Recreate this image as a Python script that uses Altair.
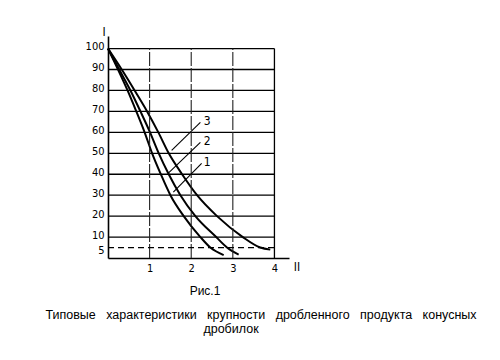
import altair as alt
import pandas as pd

# ---- data ----
curve1_x = [0, 0.24, 0.47, 0.68, 0.88, 1.06, 1.27, 1.50, 1.82, 2.22, 2.46, 2.78]
curve1_y = [100, 90, 80, 70, 60, 50, 40, 30, 20, 10, 5, 1.4]
curve2_x = [0, 0.27, 0.54, 0.78, 1.01, 1.22, 1.46, 1.74, 2.10, 2.60, 2.86, 3.14]
curve2_y = [100, 90, 80, 70, 60, 50, 40, 30, 20, 10, 5, 1.6]
curve3_x = [0, 0.33, 0.64, 0.94, 1.21, 1.46, 1.78, 2.14, 2.62, 3.24, 3.66, 3.90]
curve3_y = [100, 90, 80, 70, 60, 50, 40, 30, 20, 10, 5, 4.0]

y_tick_values = [5, 10, 20, 30, 40, 50, 60, 70, 80, 90, 100]
x_tick_values = [1, 2, 3, 4]
h_grid_values = [10, 20, 30, 40, 50, 60, 70, 80, 90, 100]
v_grid_values = [1, 2, 3]
border_x = [4]
dashed_level = [5]

labels = ["1", "2", "3"]
leader_x1 = [2.25, 2.22, 2.22]
leader_y1 = [45.2, 55.2, 64.8]
leader_x2 = [1.57, 1.45, 1.53]
leader_y2 = [31.4, 40.5, 51.4]
label_x = [2.30, 2.30, 2.30]
label_y = [45.8, 55.8, 65.6]

caption_fig = "Рис.1"
caption_words = ["Типовые", "характеристики", "крупности", "дробленного", "продукта", "конусных"]
caption_line2 = "дробилок"
axis_name_y = "I"
axis_name_x = "II"

X_MAX = 4.35
Y_MAX = 106
FONT = "Liberation Sans Narrow, DejaVu Sans Condensed, sans-serif"
CAP_FONT = "Liberation Sans, DejaVu Sans, sans-serif"

# ---- tables ----
rows = []
for name, xs_, ys_ in (("1", curve1_x, curve1_y), ("2", curve2_x, curve2_y), ("3", curve3_x, curve3_y)):
    for a, b in zip(xs_, ys_):
        rows.append({"curve": name, "x": a, "y": b})
curves_df = pd.DataFrame(rows)

hgrid_df = pd.DataFrame({"y": h_grid_values, "x": 0, "x2": 4})
vgrid_df = pd.DataFrame({"x": v_grid_values, "y": 0, "y2": 100})
border_df = pd.DataFrame({"x": border_x, "y": 0, "y2": 100})
dash_df = pd.DataFrame({"y": dashed_level, "x": 0, "x2": 4})
leader_df = pd.DataFrame({"label": labels, "x": leader_x1, "y": leader_y1,
                          "x2": leader_x2, "y2": leader_y2,
                          "lx": label_x, "ly": label_y})

xs = alt.Scale(domain=[0, X_MAX], nice=False, zero=False)
ys = alt.Scale(domain=[0, Y_MAX], nice=False, zero=False)

x_axis = alt.Axis(
    values=x_tick_values, ticks=False, grid=False, title=None,
    labelFontSize=11, labelPadding=4, labelFont=FONT, labelColor="black",
    labelOverlap=False, domainColor="black", domainWidth=1.6)
y_axis = alt.Axis(
    values=y_tick_values, ticks=False, grid=False, title=None,
    labelFontSize=11, labelPadding=4, labelFont=FONT, labelColor="black",
    labelOverlap=False, labelBaseline="middle",
    labelOffset={"condition": {"test": "datum.value == 5", "value": 3}, "value": -2},
    domainColor="black", domainWidth=1.6)

curves = alt.Chart(curves_df).mark_line(
    interpolate="monotone", color="black", strokeWidth=2
).encode(
    x=alt.X("x:Q", scale=xs, axis=x_axis),
    y=alt.Y("y:Q", scale=ys, axis=y_axis),
    detail="curve:N",
    order="x:Q",
)

hgrid = alt.Chart(hgrid_df).mark_rule(color="black", strokeWidth=1.3).encode(
    x=alt.X("x:Q", scale=xs, axis=x_axis), x2="x2:Q",
    y=alt.Y("y:Q", scale=ys, axis=y_axis))

vgrid = alt.Chart(vgrid_df).mark_rule(color="#222", strokeWidth=1.1, strokeDash=[14, 2]).encode(
    x=alt.X("x:Q", scale=xs, axis=x_axis),
    y=alt.Y("y:Q", scale=ys, axis=y_axis), y2="y2:Q")

border = alt.Chart(border_df).mark_rule(color="black", strokeWidth=1.3).encode(
    x=alt.X("x:Q", scale=xs, axis=x_axis),
    y=alt.Y("y:Q", scale=ys, axis=y_axis), y2="y2:Q")

dashed = alt.Chart(dash_df).mark_rule(color="black", strokeWidth=1.3, strokeDash=[6, 4]).encode(
    x=alt.X("x:Q", scale=xs, axis=x_axis), x2="x2:Q",
    y=alt.Y("y:Q", scale=ys, axis=y_axis))

leaders = alt.Chart(leader_df).mark_rule(color="black", strokeWidth=1.1).encode(
    x=alt.X("x:Q", scale=xs, axis=x_axis), x2="x2:Q",
    y=alt.Y("y:Q", scale=ys, axis=y_axis), y2="y2:Q")

leader_text = alt.Chart(leader_df).mark_text(
    align="left", baseline="middle", fontSize=12, font=FONT, color="black"
).encode(
    x=alt.X("lx:Q", scale=xs, axis=x_axis),
    y=alt.Y("ly:Q", scale=ys, axis=y_axis),
    text="label:N")

def ptext(txt, px, py, size, font, align="center"):
    return alt.Chart(pd.DataFrame({"t": [txt]})).mark_text(
        align=align, baseline="middle", fontSize=size, font=font, color="black"
    ).encode(x=alt.value(px), y=alt.value(py), text="t:N")

gap = "\u00a0\u00a0\u00a0"
caption_line1 = gap.join(caption_words)

name_y = ptext(axis_name_y, -4, -4, 12, FONT)
name_x = ptext(axis_name_x, 189, 231, 12, FONT)
cap_fig = ptext(caption_fig, 97, 255, 12, CAP_FONT)
cap_l1 = ptext(caption_line1, 153, 279, 12.5, CAP_FONT)
cap_l2 = ptext(caption_line2, 123, 293, 12.5, CAP_FONT)

chart = alt.layer(
    curves, hgrid, vgrid, border, dashed, leaders, leader_text,
    name_y, name_x, cap_fig, cap_l1, cap_l2
).properties(
    width=181, height=222,
    autosize=alt.AutoSizeParams(type="none"),
    padding={"left": 100, "top": 28, "right": 200, "bottom": 85},
).configure_view(stroke=None)

chart.save("out.html", embed_options={"renderer": "svg", "actions": False})
